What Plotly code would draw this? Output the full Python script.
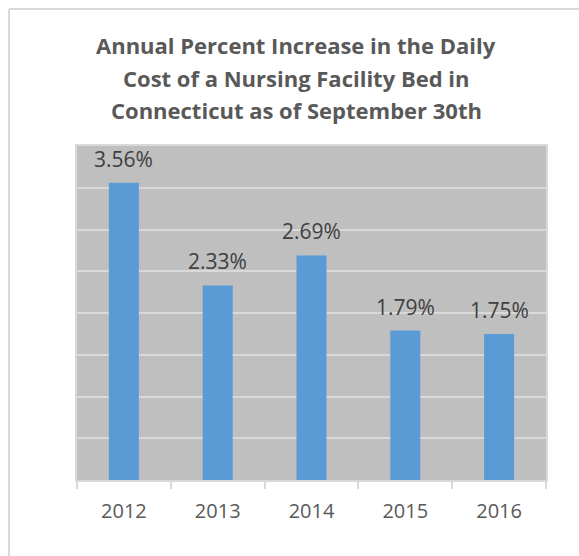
import plotly.graph_objects as go

years = ["2012", "2013", "2014", "2015", "2016"]
pct_increase = [3.56, 2.33, 2.69, 1.79, 1.75]
title_lines = [
    "Annual Percent Increase in the Daily",
    "Cost of a Nursing Facility Bed in",
    "Connecticut as of September 30th",
]

W, H = 579, 556
L, T = 77, 146
R = W - 546
B = H - 480
pw, ph = W - L - R, H - T - B


def px_x(p):
    """page pixel x -> paper coordinate"""
    return (p - L) / pw


def px_y(p):
    """page pixel y -> paper coordinate"""
    return (H - B - p) / ph


fig = go.Figure()
fig.add_trace(go.Bar(
    x=years, y=pct_increase,
    marker=dict(color="#5b9bd5", line=dict(width=0)),
    hoverinfo="x+y",
))

# data labels
for i, v in enumerate(pct_increase):
    fig.add_annotation(
        x=i, y=v, xref="x", yref="y", text=f"{v:.2f}%", showarrow=False,
        yanchor="bottom", yshift=8,
        font=dict(family="Open Sans", size=21, color="#404040"),
    )

# title lines
for y_px, line in zip([45, 78, 110], title_lines):
    fig.add_annotation(
        x=px_x(296), y=px_y(y_px), xref="paper", yref="paper",
        text=f"<b>{line}</b>", showarrow=False,
        xanchor="center", yanchor="middle",
        font=dict(family="Open Sans", size=22, color="#595959"),
    )

# outer chart border: only its top and left edges fall inside the window
border = dict(color="#d9d9d9", width=2)
fig.add_shape(type="line", xref="paper", yref="paper",
              x0=px_x(9), x1=px_x(600), y0=px_y(9), y1=px_y(9),
              line=border, layer="below")
fig.add_shape(type="line", xref="paper", yref="paper",
              x0=px_x(9), x1=px_x(9), y0=px_y(9), y1=px_y(600),
              line=border, layer="below")

fig.update_layout(
    width=W, height=H,
    margin=dict(l=L, r=R, t=T, b=B, autoexpand=False),
    paper_bgcolor="white",
    plot_bgcolor="#bfbfbf",
    bargap=0.68,
    showlegend=False,
    xaxis=dict(
        type="category", range=[-0.5, len(years) - 0.5], automargin=False,
        tickson="boundaries", ticks="outside", ticklen=7,
        tickcolor="#d9d9d9", tickwidth=2, tickangle=0,
        showline=True, linecolor="#d9d9d9", linewidth=2, mirror=True,
        showgrid=False,
        tickfont=dict(family="Open Sans", size=20, color="#595959"),
        ticklabelstandoff=12,
    ),
    yaxis=dict(
        range=[0, 4], dtick=0.5, automargin=False,
        showticklabels=False, ticks="",
        showgrid=True, gridcolor="#d9d9d9", gridwidth=1.5,
        showline=True, linecolor="#d9d9d9", linewidth=2, mirror=True,
        zeroline=False,
    ),
)

fig.write_html(
    "out.html",
    config={"displayModeBar": False},
    post_script="document.body.style.margin='0';"
                "document.body.style.overflow='hidden';",
)
